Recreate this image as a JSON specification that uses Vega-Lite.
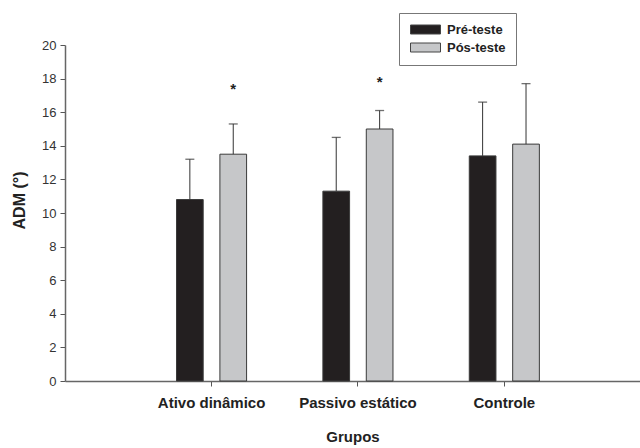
{
  "$schema": "https://vega.github.io/schema/vega-lite/v6.json",
  "width": 575,
  "height": 336,
  "autosize": {"type": "none"},
  "padding": {"left": 65, "top": 45, "right": 0, "bottom": 67},
  "background": "white",
  "config": {"view": {"stroke": null}, "font": "Liberation Sans"},
  "data": {
    "values": [
      {"grupo": "Ativo dinâmico", "teste": "Pré-teste", "media": 10.8, "sup": 13.2},
      {"grupo": "Ativo dinâmico", "teste": "Pós-teste", "media": 13.5, "sup": 15.3, "sig": "*", "sig_y": 17.4},
      {"grupo": "Passivo estático", "teste": "Pré-teste", "media": 11.3, "sup": 14.5},
      {"grupo": "Passivo estático", "teste": "Pós-teste", "media": 15.0, "sup": 16.1, "sig": "*", "sig_y": 17.8},
      {"grupo": "Controle", "teste": "Pré-teste", "media": 13.4, "sup": 16.6},
      {"grupo": "Controle", "teste": "Pós-teste", "media": 14.1, "sup": 17.7}
    ]
  },
  "encoding": {
    "x": {
      "field": "grupo",
      "type": "nominal",
      "sort": ["Ativo dinâmico", "Passivo estático", "Controle"],
      "scale": {"paddingInner": 0, "paddingOuter": 0.464, "align": 0.54},
      "axis": {
        "title": "Grupos",
        "titleFontSize": 15,
        "titleFontWeight": "bold",
        "titleColor": "#222",
        "titlePadding": 19,
        "labelAngle": 0,
        "labelFontSize": 15,
        "labelFontWeight": "bold",
        "labelColor": "#222",
        "labelPadding": 9,
        "tickSize": 5,
        "tickColor": "#555",
        "domainColor": "#666",
        "domainWidth": 1.5,
        "grid": false
      }
    },
    "xOffset": {
      "field": "teste",
      "sort": ["Pré-teste", "Pós-teste"],
      "scale": {"paddingInner": 0.385, "paddingOuter": 0.879}
    }
  },
  "layer": [
    {
      "mark": {"type": "bar", "stroke": "#3a3a3a", "strokeWidth": 1},
      "encoding": {
        "y": {
          "field": "media",
          "type": "quantitative",
          "scale": {"domain": [0, 20]},
          "axis": {
            "title": "ADM (°)",
            "titleFontSize": 16,
            "titleFontWeight": "bold",
            "titleColor": "#222",
            "titleX": -46,
            "titleY": 155,
            "titleBaseline": "middle",
            "titleAlign": "center",
            "values": [0, 2, 4, 6, 8, 10, 12, 14, 16, 18, 20],
            "tickSize": 5,
            "tickColor": "#555",
            "domainColor": "#666",
            "domainWidth": 1.5,
            "labelFontSize": 13,
            "labelColor": "#333",
            "labelPadding": 4,
            "grid": false
          }
        },
        "fill": {
          "field": "teste",
          "type": "nominal",
          "sort": ["Pré-teste", "Pós-teste"],
          "scale": {"domain": ["Pré-teste", "Pós-teste"], "range": ["#231f20", "#c6c7c9"]},
          "legend": {
            "orient": "none",
            "legendX": 334,
            "legendY": -32,
            "title": null,
            "direction": "vertical",
            "strokeColor": "#777",
            "fillColor": "white",
            "padding": 10,
            "symbolType": "M-1,-0.9H5V0.9H-1Z",
            "symbolSize": 100,
            "symbolStrokeColor": "#444",
            "symbolStrokeWidth": 1,
            "labelFontSize": 13,
            "labelFontWeight": "bold",
            "labelColor": "#222",
            "labelOffset": 25,
            "rowPadding": 4
          }
        }
      }
    },
    {
      "mark": {"type": "rule", "color": "#333", "strokeWidth": 1},
      "encoding": {
        "y": {
          "field": "media",
          "type": "quantitative",
          "axis": {
            "title": "ADM (°)",
            "titleFontSize": 16,
            "titleFontWeight": "bold",
            "titleColor": "#222",
            "titleX": -46,
            "titleY": 155,
            "titleBaseline": "middle",
            "titleAlign": "center",
            "values": [0, 2, 4, 6, 8, 10, 12, 14, 16, 18, 20],
            "tickSize": 5,
            "tickColor": "#555",
            "domainColor": "#666",
            "domainWidth": 1.5,
            "labelFontSize": 13,
            "labelColor": "#333",
            "labelPadding": 4,
            "grid": false
          }
        },
        "y2": {"field": "sup"}
      }
    },
    {
      "mark": {"type": "tick", "color": "#333", "size": 9, "thickness": 1.3},
      "encoding": {
        "y": {
          "field": "sup",
          "type": "quantitative",
          "axis": {
            "title": "ADM (°)",
            "titleFontSize": 16,
            "titleFontWeight": "bold",
            "titleColor": "#222",
            "titleX": -46,
            "titleY": 155,
            "titleBaseline": "middle",
            "titleAlign": "center",
            "values": [0, 2, 4, 6, 8, 10, 12, 14, 16, 18, 20],
            "tickSize": 5,
            "tickColor": "#555",
            "domainColor": "#666",
            "domainWidth": 1.5,
            "labelFontSize": 13,
            "labelColor": "#333",
            "labelPadding": 4,
            "grid": false
          }
        }
      }
    },
    {
      "transform": [{"filter": "datum.sig"}],
      "mark": {"type": "text", "fontSize": 15, "fontWeight": "bold", "baseline": "middle", "color": "#222"},
      "encoding": {
        "y": {
          "field": "sig_y",
          "type": "quantitative",
          "axis": {
            "title": "ADM (°)",
            "titleFontSize": 16,
            "titleFontWeight": "bold",
            "titleColor": "#222",
            "titleX": -46,
            "titleY": 155,
            "titleBaseline": "middle",
            "titleAlign": "center",
            "values": [0, 2, 4, 6, 8, 10, 12, 14, 16, 18, 20],
            "tickSize": 5,
            "tickColor": "#555",
            "domainColor": "#666",
            "domainWidth": 1.5,
            "labelFontSize": 13,
            "labelColor": "#333",
            "labelPadding": 4,
            "grid": false
          }
        },
        "text": {"field": "sig"}
      }
    }
  ]
}
